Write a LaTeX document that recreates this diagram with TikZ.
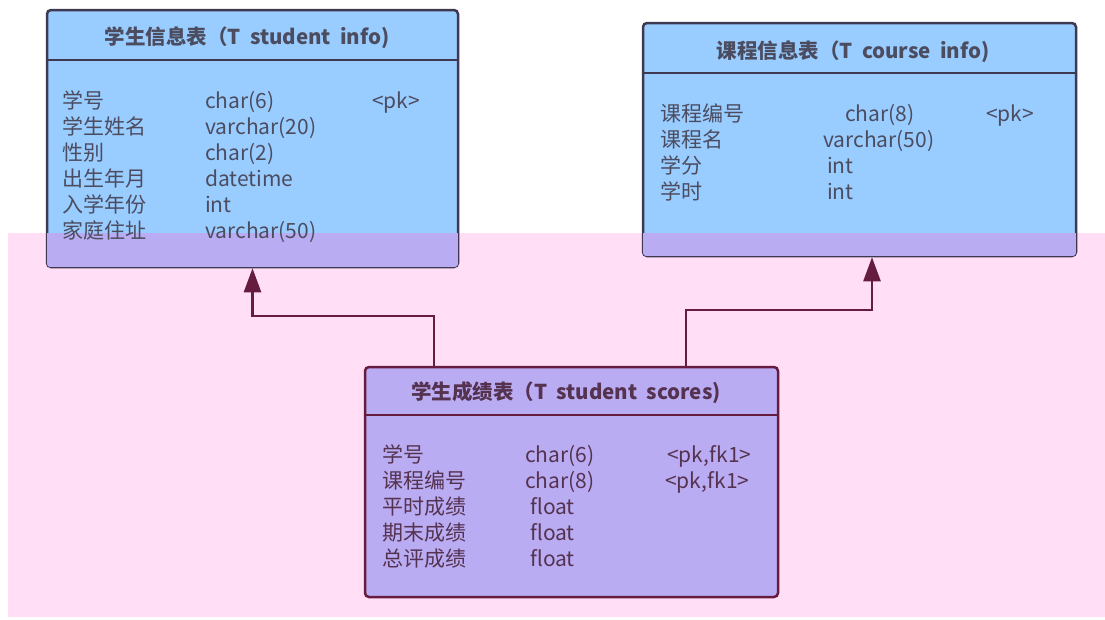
\documentclass[tikz,border=0pt]{standalone}
\usepackage{fontspec}
\setmainfont{Noto Sans CJK SC}
\usetikzlibrary{arrows.meta}
\definecolor{tblblue}{RGB}{153,204,255}
\definecolor{tblpurple}{RGB}{186,172,242}
\definecolor{bgpink}{RGB}{255,222,246}
\definecolor{tblline}{RGB}{62,56,80}
\definecolor{fkline}{RGB}{102,28,62}
\definecolor{txtgray}{RGB}{76,76,96}
\definecolor{txtplum}{RGB}{84,50,80}
\newcommand{\wsp}{\hspace{0.45em}}
\tikzset{
 tbl/.style={rectangle,rounded corners=4pt,line width=2.5pt,draw=tblline,fill=tblblue,inner sep=0pt},
 tbltitle/.style={anchor=base,inner sep=0pt,font=\fontsize{20.5}{24}\selectfont\bfseries},
 col/.style={anchor=base west,inner sep=0pt,font=\fontsize{21}{26}\selectfont},
 fk/.style={line width=2.5pt,draw=fkline,-{Triangle[width=17pt,length=24pt]}}
}
\begin{document}
\begin{tikzpicture}[x=1pt,y=-1pt]
 \useasboundingbox (0,0) rectangle (1105,619);
 % pink area
 \fill[bgpink] (8,233) rectangle (1105,617);
 % tables
 \node[tbl,minimum width=411pt,minimum height=257pt] (stu) at (252.5,138.5) {};
 \node[tbl,minimum width=433pt,minimum height=233pt] (course) at (859.5,139.5) {};
 \node[tbl,draw=fkline,fill=tblpurple,minimum width=413pt,minimum height=230pt] (score) at (571.5,482) {};
 \begin{scope}
 \clip (8,233) rectangle (1105,617);
 \fill[tblpurple,rounded corners=3pt] ([shift={(1.3pt,1.3pt)}]stu.south west) rectangle ([shift={(-1.3pt,-1.3pt)}]stu.north east);
 \fill[tblpurple,rounded corners=3pt] ([shift={(1.3pt,1.3pt)}]course.south west) rectangle ([shift={(-1.3pt,-1.3pt)}]course.north east);
 \end{scope}
 \coordinate (stuhead) at (0,60);
 \coordinate (coursehead) at (0,73);
 \coordinate (scorehead) at (0,415);
 \draw[line width=2.5pt,tblline] (stu.west |- stuhead) -- (stu.east |- stuhead);
 \draw[line width=2.5pt,tblline] (course.west |- coursehead) -- (course.east |- coursehead);
 \draw[line width=2.5pt,fkline] (score.west |- scorehead) -- (score.east |- scorehead);

 % T student info
 \begin{scope}[txtgray]
 \node[tbltitle] (stutitle) at (247,44) {学生信息表（T\wsp student\wsp info)};
 \node[col] (stuid) at (62,108) {学号};
 \node[col] (stuidtype) at (205,108) {char(6)};
 \node[col] (stuidkey) at (372,108) {<pk>};
 \node[col] (stuname) at (62,134) {学生姓名};
 \node[col] (stunametype) at (205,134) {varchar(20)};
 \node[col] (stusex) at (62,160) {性别};
 \node[col] (stusextype) at (205,160) {char(2)};
 \node[col] (stubirth) at (62,186) {出生年月};
 \node[col] (stubirthtype) at (205,186) {datetime};
 \node[col] (stuyear) at (62,212) {入学年份};
 \node[col] (stuyeartype) at (205,212) {int};
 \node[col] (stuaddr) at (62,238) {家庭住址};
 \node[col] (stuaddrtype) at (205,238) {varchar(50)};
 \end{scope}

 % T course info
 \begin{scope}[txtgray]
 \node[tbltitle] (coursetitle) at (853,58) {课程信息表（T\wsp course\wsp info)};
 \node[col] (courseid) at (660,121) {课程编号};
 \node[col] (courseidtype) at (845,121) {char(8)};
 \node[col] (courseidkey) at (986,121) {<pk>};
 \node[col] (coursename) at (660,147) {课程名};
 \node[col] (coursenametype) at (823,147) {varchar(50)};
 \node[col] (credit) at (660,173) {学分};
 \node[col] (credittype) at (827,173) {int};
 \node[col] (hours) at (660,199) {学时};
 \node[col] (hourstype) at (827,199) {int};
 \end{scope}

 % T student scores
 \begin{scope}[txtplum]
 \node[tbltitle] (scoretitle) at (566,399) {学生成绩表（T\wsp student\wsp scores)};
 \node[col] (scstu) at (382,462) {学号};
 \node[col] (scstutype) at (525,462) {char(6)};
 \node[col] (scstukey) at (667,462) {<pk,fk1>};
 \node[col] (sccourse) at (382,488) {课程编号};
 \node[col] (sccoursetype) at (525,488) {char(8)};
 \node[col] (sccoursekey) at (665,488) {<pk,fk1>};
 \node[col] (scusual) at (382,514) {平时成绩};
 \node[col] (scusualtype) at (530,514) {float};
 \node[col] (scfinal) at (382,540) {期末成绩};
 \node[col] (scfinaltype) at (530,540) {float};
 \node[col] (sctotal) at (382,566) {总评成绩};
 \node[col] (sctotaltype) at (530,566) {float};
 \end{scope}

 % references
 \coordinate (lbendA) at (434,316);
 \coordinate (lbendB) at (252.5,316);
 \coordinate (rbendA) at (686,310);
 \coordinate (rbendB) at (872,310);
 \draw[fk] (score.north -| lbendA) -- (lbendA) -- (lbendB) -- (lbendB |- stu.south);
 \draw[fk] (score.north -| rbendA) -- (rbendA) -- (rbendB) -- (rbendB |- course.south);
\end{tikzpicture}
\end{document}
